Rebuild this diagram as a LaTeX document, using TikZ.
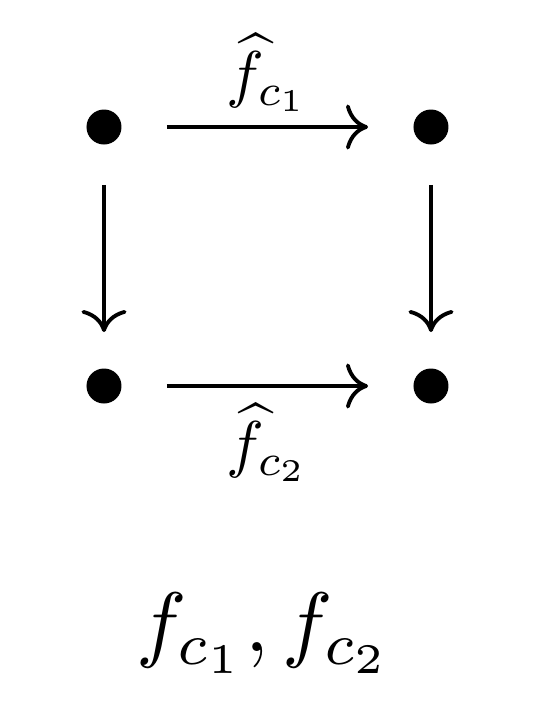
\documentclass[tikz,border=0pt]{standalone}
\usepackage{amsmath}
\usepackage{tikz}
\usetikzlibrary{arrows.meta}

\begin{document}
\begin{tikzpicture}[x=1cm,y=1cm,line width=1.1pt,
 >={Computer Modern Rightarrow[length=6.3pt,width=12.8pt]},
 vertex/.style={circle,fill=black,inner sep=0pt,minimum size=0.35cm},
 hmap/.style={->,shorten <=4.35mm,shorten >=4.35mm},
 vmap/.style={->,shorten <=3.85mm,shorten >=3.45mm}]
\useasboundingbox (0,0) rectangle (5.4,7.09);
% the square
\node[vertex] (tl) at (1.04,5.82) {};
\node[vertex] (tr) at (4.31,5.82) {};
\node[vertex] (bl) at (1.04,3.23) {};
\node[vertex] (br) at (4.31,3.23) {};
\draw[hmap] (tl) -- node[above=1.2mm,inner sep=0pt,scale=1.8] (top) {$\widehat{f}_{c_1}$} (tr);
\draw[hmap] (bl) -- node[below=1.4mm,inner sep=0pt,scale=1.8] (bot) {$\widehat{f}_{c_2}$} (br);
\draw[vmap] (tl) -- (bl);
\draw[vmap] (tr) -- (br);
% the maps below
\node[anchor=base,scale=2.4] (maps) at (2.64,0.57) {$f_{c_1}, f_{c_2}$};
\end{tikzpicture}
\end{document}
